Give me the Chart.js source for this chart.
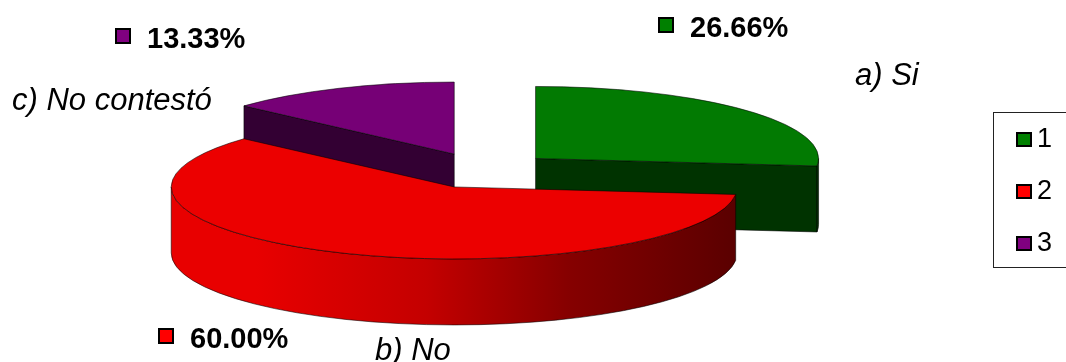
<!DOCTYPE html>
<html>
<head>
<meta charset="utf-8">
<script src="https://cdn.jsdelivr.net/npm/chart.js@4.4.1/dist/chart.umd.min.js"></script>
<style>
  html, body { margin: 0; padding: 0; background: #ffffff; }
  #wrap { width: 1066px; height: 362px; position: relative; }
</style>
</head>
<body>
<div id="wrap"><canvas id="chart" width="1066" height="362"></canvas></div>
<script>
// Survey answers: legend keys, answer names and share of responses (%)
const legendLabels = ['1', '2', '3'];
const categories = ['a) Si', 'b) No', 'c) No contestó'];
const percentages = [26.66, 60.00, 13.33];

// Colours per answer
const keyColors  = ['#008000', '#ff0000', '#800080'];
const topColors  = ['#027a02', '#ec0000', '#760076'];
const wallLight  = ['#006600', '#e80000', '#660066'];
const wallDark   = ['#003300', '#5a0000', '#330033'];

// 3D projection of the pie: horizontal stretch, vertical tilt, wall thickness (px)
const STRETCH = 2.83;
const TILT = 0.72;
const DEPTH = 66;

// Where the value and name labels sit: [x, baseline]
const valueLabelPos = [[690, 37], [190, 348], [147, 48]];
const nameLabelPos  = [[855, 85], [375, 360], [12, 110]];

const FONT = '"Liberation Sans", Arial, sans-serif';

function visibleRange(s, e) {
  // part of [s, e] that faces the viewer (angles 0..PI, modulo 2PI)
  const out = [];
  for (let k = -1; k <= 1; k++) {
    const lo = Math.max(s, k * 2 * Math.PI);
    const hi = Math.min(e, k * 2 * Math.PI + Math.PI);
    if (hi > lo) out.push([lo, hi]);
  }
  return out;
}

const pie3d = {
  id: 'pie3d',
  beforeDatasetsDraw(chart) {
    const ctx = chart.ctx;
    const meta = chart.getDatasetMeta(0);
    const slices = meta.data.map((arc, i) => {
      const p = arc.getProps(['x', 'y', 'startAngle', 'endAngle', 'outerRadius'], true);
      const off = arc.options.offset || 0;
      const mid = (p.startAngle + p.endAngle) / 2;
      return {
        i,
        s: p.startAngle,
        e: p.endAngle,
        ex: p.x + Math.cos(mid) * off * STRETCH,
        ey: p.y + Math.sin(mid) * off * TILT,
        rx: p.outerRadius * STRETCH,
        ry: p.outerRadius * TILT
      };
    });
    slices.sort((a, b) => a.ey - b.ey);

    ctx.save();
    ctx.lineJoin = 'round';
    ctx.lineWidth = 1;
    ctx.strokeStyle = 'rgba(0,0,0,0.55)';

    slices.forEach(sl => {
      const {i, s, e, ex, ey, rx, ry} = sl;
      const pt = a => [ex + rx * Math.cos(a), ey + ry * Math.sin(a)];

      // radial cut faces that turn towards the viewer
      [[s, s - Math.PI / 2], [e, e + Math.PI / 2]].forEach(([a, n]) => {
        if (Math.sin(n) <= 0.001) return;
        const [px, py] = pt(a);
        ctx.beginPath();
        ctx.moveTo(ex, ey);
        ctx.lineTo(px, py);
        ctx.lineTo(px, py + DEPTH);
        ctx.lineTo(ex, ey + DEPTH);
        ctx.closePath();
        ctx.fillStyle = wallDark[i];
        ctx.fill();
        ctx.stroke();
      });

      // curved outer wall
      visibleRange(s, e).forEach(([a1, a2]) => {
        const g = ctx.createLinearGradient(ex - rx, 0, ex + rx, 0);
        g.addColorStop(0, wallLight[i]);
        g.addColorStop(0.15, wallLight[i]);
        g.addColorStop(0.45, i === 1 ? '#c40000' : wallLight[i]);
        g.addColorStop(0.7, i === 1 ? '#860000' : wallDark[i]);
        g.addColorStop(1, wallDark[i]);
        const [bx, by] = pt(a2);
        ctx.beginPath();
        ctx.ellipse(ex, ey, rx, ry, 0, a1, a2, false);
        ctx.lineTo(bx, by + DEPTH);
        ctx.ellipse(ex, ey + DEPTH, rx, ry, 0, a2, a1, true);
        ctx.closePath();
        ctx.fillStyle = g;
        ctx.fill();
        ctx.stroke();
      });

      // top face
      ctx.beginPath();
      ctx.moveTo(ex, ey);
      ctx.ellipse(ex, ey, rx, ry, 0, s, e, false);
      ctx.closePath();
      ctx.fillStyle = topColors[i];
      ctx.fill();
      ctx.stroke();
    });
    ctx.restore();
    return false;
  },
  afterDraw(chart) {
    const ctx = chart.ctx;
    const values = chart.data.datasets[0].data;
    ctx.save();
    ctx.textBaseline = 'alphabetic';
    ctx.textAlign = 'left';

    // value labels with legend key and answer names
    values.forEach((v, i) => {
      const [tx, ty] = valueLabelPos[i];
      ctx.fillStyle = keyColors[i];
      ctx.fillRect(tx - 31, ty - 19, 14, 14);
      ctx.lineWidth = 2;
      ctx.strokeStyle = '#000';
      ctx.strokeRect(tx - 31, ty - 19, 14, 14);
      ctx.fillStyle = '#000';
      ctx.font = 'bold 29px ' + FONT;
      ctx.fillText(v.toFixed(2) + '%', tx, ty);
      const [nx, ny] = nameLabelPos[i];
      ctx.font = 'italic 31px ' + FONT;
      ctx.fillText(categories[i], nx, ny);
    });

    // legend box
    ctx.lineWidth = 1;
    ctx.strokeStyle = '#222';
    ctx.strokeRect(993.5, 112.5, 120, 155);
    ctx.font = '27px ' + FONT;
    ctx.textBaseline = 'middle';
    chart.data.labels.forEach((lab, i) => {
      const cy = 139 + i * 52;
      ctx.fillStyle = keyColors[i];
      ctx.fillRect(1017, cy - 6, 14, 13);
      ctx.lineWidth = 2;
      ctx.strokeStyle = '#000';
      ctx.strokeRect(1017, cy - 6, 14, 13);
      ctx.fillStyle = '#000';
      ctx.fillText(lab, 1037, cy + 1);
    });
    ctx.restore();
  }
};

new Chart(document.getElementById('chart'), {
  type: 'pie',
  data: {
    labels: legendLabels,
    datasets: [{
      data: percentages,
      backgroundColor: keyColors,
      borderWidth: 0,
      offset: 25
    }]
  },
  options: {
    responsive: false,
    animation: false,
    radius: 100,
    layout: { padding: { left: 0, right: 100, top: 0, bottom: 21 } },
    plugins: {
      legend: { display: false },
      tooltip: { enabled: false }
    }
  },
  plugins: [pie3d]
});
</script>
</body>
</html>
